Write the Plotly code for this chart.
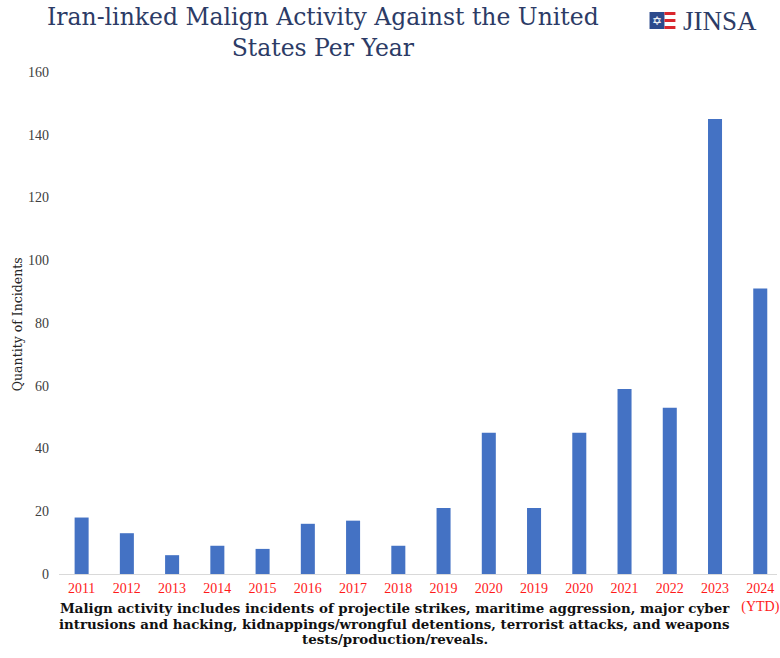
import plotly.graph_objects as go

years = ["2011", "2012", "2013", "2014", "2015", "2016", "2017", "2018",
         "2019", "2020", "2019", "2020", "2021", "2022", "2023", "2024<br>(YTD)"]
incidents = [18, 13, 6, 9, 8, 16, 17, 9, 21, 45, 21, 45, 59, 53, 145, 91]
y_ticks = [0, 20, 40, 60, 80, 100, 120, 140, 160]

title_lines = ["Iran-linked Malign Activity Against the United", "States Per Year"]
footer_lines = [
    "Malign activity includes incidents of projectile strikes, maritime aggression, major cyber",
    "intrusions and hacking, kidnappings/wrongful detentions, terrorist attacks, and weapons",
    "tests/production/reveals.",
]

positions = list(range(len(years)))

W, H = 780, 658
L, R, T, B = 59, 0, 72, 84
PW, PH = W - L - R, H - T - B


def px(x):
    return (x - L) / PW


def py(y):
    return (H - B - y) / PH


fig = go.Figure(go.Bar(
    x=positions, y=incidents,
    marker=dict(color="#4472c4", line=dict(width=0)),
    hoverinfo="y",
))

serif = "Liberation Serif, DejaVu Serif, serif"
navy = "#2c3b66"

annotations = [dict(
    text="<br>".join(title_lines), xref="paper", yref="paper", x=px(324), y=py(32),
    xanchor="center", yanchor="middle", showarrow=False,
    font=dict(family="DejaVu Serif", size=23.5, color=navy))]
for line, yc in zip(footer_lines, [608, 623.5, 639]):
    annotations.append(dict(
        text="<b>" + line + "</b>", xref="paper", yref="paper", x=px(396), y=py(yc),
        xanchor="center", yanchor="middle", showarrow=False,
        font=dict(family="DejaVu Serif", size=13.4, color="#111111")))
annotations += [
    dict(text="Quantity of Incidents", textangle=-90,
         xref="paper", yref="paper", x=px(17), y=py(324),
         xanchor="center", yanchor="middle", showarrow=False,
         font=dict(family="DejaVu Serif", size=12.5, color="#262626")),
    dict(text="JINSA", xref="paper", yref="paper", x=px(684), y=py(21),
         xanchor="left", yanchor="middle", showarrow=False,
         font=dict(family=serif, size=27, color=navy)),
    dict(text="✡", xref="paper", yref="paper", x=px(660), y=py(21),
         xanchor="center", yanchor="middle", showarrow=False,
         font=dict(family="DejaVu Sans", size=12, color="white")),
]

fig.update_layout(
    width=W, height=H,
    margin=dict(l=L, r=R, t=T, b=B),
    paper_bgcolor="white", plot_bgcolor="white",
    bargap=0.69,
    showlegend=False,
    xaxis=dict(
        range=[-0.5, 15.37],
        tickmode="array", tickvals=positions, ticktext=years,
        tickfont=dict(family=serif, size=14, color="#ff1a1a"),
        showgrid=False, zeroline=False,
        showline=True, linecolor="#d9d9d9", linewidth=1,
        ticks="", ticklabelstandoff=1, ticklabeloverflow="allow",
        fixedrange=True,
    ),
    yaxis=dict(
        range=[0, 160],
        tickmode="array", tickvals=y_ticks,
        tickfont=dict(family=serif, size=14, color="#404040"),
        showgrid=False, zeroline=False, showline=False,
        ticks="", ticklabelstandoff=9,
        fixedrange=True,
    ),
    annotations=annotations,
    shapes=[
        dict(type="rect", xref="paper", yref="paper",
             x0=px(652), x1=px(667), y0=py(12), y1=py(29),
             fillcolor="#2c4a8c", line=dict(width=0), layer="above"),
        dict(type="rect", xref="paper", yref="paper",
             x0=px(667), x1=px(678), y0=py(12), y1=py(15),
             fillcolor="#d9262c", line=dict(width=0), layer="above"),
        dict(type="rect", xref="paper", yref="paper",
             x0=px(667), x1=px(678), y0=py(19), y1=py(22),
             fillcolor="#d9262c", line=dict(width=0), layer="above"),
        dict(type="rect", xref="paper", yref="paper",
             x0=px(667), x1=px(678), y0=py(26), y1=py(29),
             fillcolor="#d9262c", line=dict(width=0), layer="above"),
    ],
)

fig.write_html("out.html",
               config={"displayModeBar": False},
               post_script="document.body.style.margin='0';document.body.style.overflow='hidden';")
